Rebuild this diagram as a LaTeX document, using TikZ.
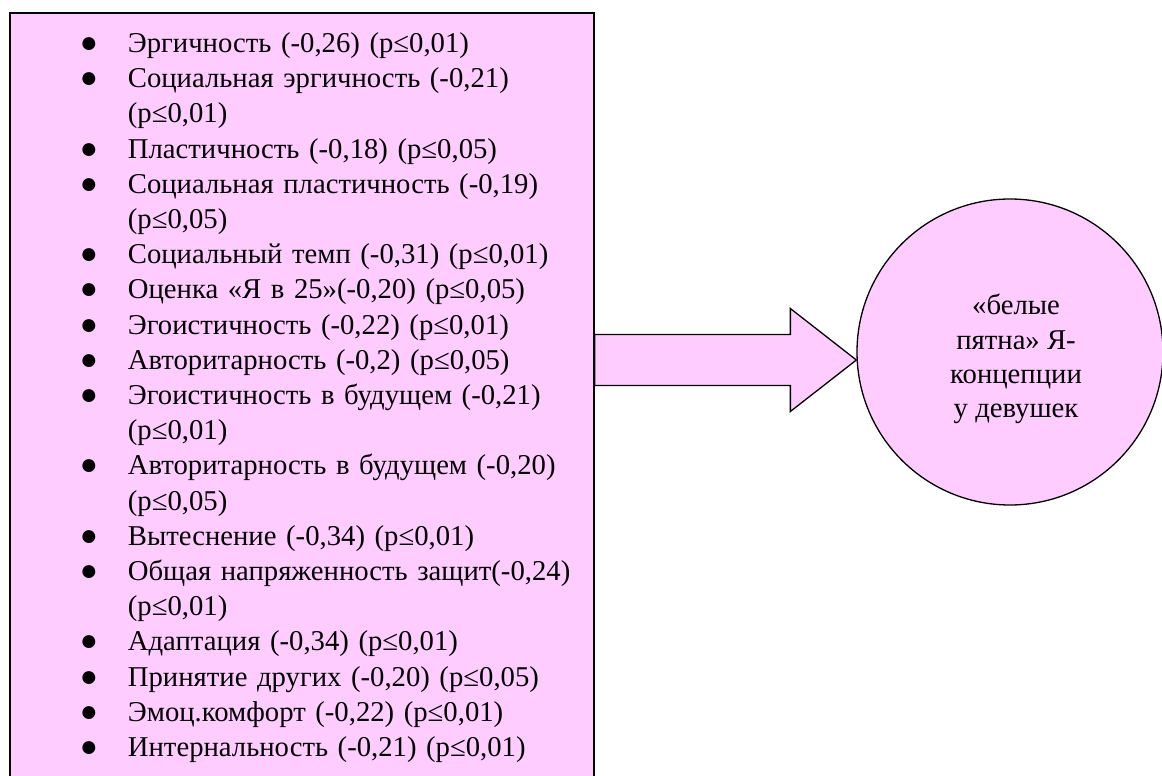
\documentclass[tikz,border=0pt]{standalone}
\usepackage{fontspec}
\setmainfont{Liberation Serif}
\usetikzlibrary{calc}
\definecolor{rose}{HTML}{FFCCFF}
\newcommand{\dotmark}{{\fontsize{30}{30}\selectfont ●}}

\begin{document}
\begin{tikzpicture}[
  x=1pt, y=-1pt,
  listbox/.style={draw, line width=1.8pt, fill=rose, anchor=north west, inner xsep=0pt, inner ysep=15pt,
    text width=584pt, align=left, font=\fontsize{28.7}{35.2}\selectfont},
  spot/.style={draw, line width=1.3pt, fill=rose, circle, minimum size=306pt},
  spottext/.style={align=center, font=\fontsize{28.7}{34.3}\selectfont},
  blockarr/.style={draw, line width=1.3pt, fill=rose, line join=miter}
]
\useasboundingbox (0,0) rectangle (1162,776);

% list of factors
\node[listbox] (factors) at (9,12) {%
\begin{tabular}{@{\hspace{70pt}}p{48pt}@{}l@{}}
\dotmark & Эргичность (-0,26) (p≤0,01)\\
\dotmark & Социальная эргичность (-0,21)\\
 & (p≤0,01)\\
\dotmark & Пластичность (-0,18) (p≤0,05)\\
\dotmark & Социальная пластичность (-0,19)\\
 & (p≤0,05)\\
\dotmark & Социальный темп (-0,31) (p≤0,01)\\
\dotmark & Оценка «Я в 25»(-0,20) (p≤0,05)\\
\dotmark & Эгоистичность (-0,22) (p≤0,01)\\
\dotmark & Авторитарность (-0,2) (p≤0,05)\\
\dotmark & Эгоистичность в будущем (-0,21)\\
 & (p≤0,01)\\
\dotmark & Авторитарность в будущем (-0,20)\\
 & (p≤0,05)\\
\dotmark & Вытеснение (-0,34) (p≤0,01)\\
\dotmark & Общая напряженность защит(-0,24)\\
 & (p≤0,01)\\
\dotmark & Адаптация (-0,34) (p≤0,01)\\
\dotmark & Принятие других (-0,20) (p≤0,05)\\
\dotmark & Эмоц.комфорт (-0,22) (p≤0,01)\\
\dotmark & Интернальность (-0,21) (p≤0,01)
\end{tabular}};

% target circle
\node[spot] (blank) at (1010,352) {};
\node[spottext] (blanktext) at ($(blank.center)+(6,7)$) {«белые\\пятна» Я-\\концепции\\у девушек};

% block arrow
\coordinate (tip) at ($(blank.west)+(0,8)$);
\draw[blockarr] ($(factors.east |- tip)+(0,-25.5)$) -- ($(tip)+(-66,-25.5)$) -- ($(tip)+(-66,-51.5)$)
  -- (tip) -- ($(tip)+(-66,51.5)$) -- ($(tip)+(-66,25.5)$) -- ($(factors.east |- tip)+(0,25.5)$) -- cycle;
\end{tikzpicture}
\end{document}
